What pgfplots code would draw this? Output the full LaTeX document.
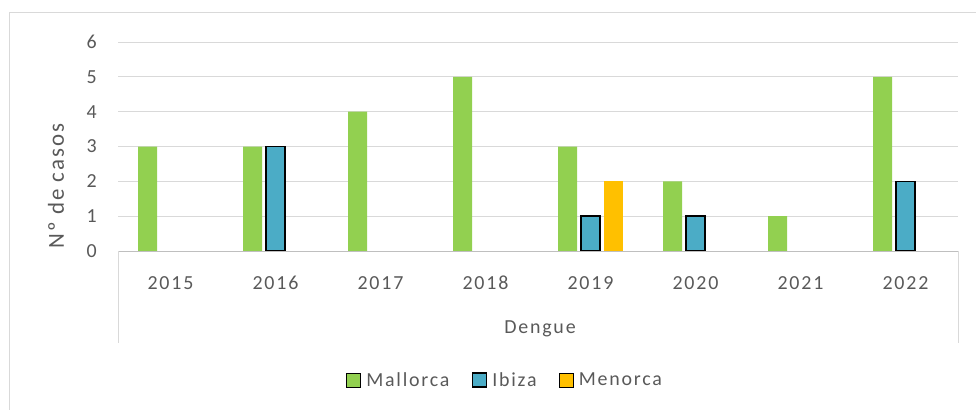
\documentclass[border=0pt]{standalone}
\usepackage{pgfplots}
\pgfplotsset{compat=1.18}
\usepackage{fontspec}
\setmainfont{Carlito}[LetterSpace=9]
\definecolor{txt}{HTML}{595959}
\definecolor{gridc}{HTML}{D9D9D9}
\definecolor{axc}{HTML}{BFBFBF}
\definecolor{mall}{HTML}{92D050}
\definecolor{ibiza}{HTML}{4BACC6}
\definecolor{meno}{HTML}{FFC000}
\begin{document}
\begin{tikzpicture}[x=1bp,y=1bp]
\begin{pgfinterruptboundingbox}
\begin{axis}[
  name=a, at={(0,0)}, anchor=south west,
  scale only axis, width=840bp, height=209bp,
  xmin=-0.5, xmax=7.5, ymin=0, ymax=6,
  ybar=4bp, bar width=19bp,
  legend image code/.code={\path[draw=none,fill=none] (0bp,0bp) -- (20bp,0bp);\draw[#1] (0bp,-7bp) rectangle (14bp,7bp);},
  axis line style={draw=none},
  major tick length=0pt,
  ytick={0,1,2,3,4,5,6},
  xtick={0,1,2,3,4,5,6,7},
  xticklabels={2015,2016,2017,2018,2019,2020,2021,2022},
  ymajorgrids, grid style={gridc, line width=1bp},
  yticklabel style={anchor=east, inner sep=0pt, xshift=-21bp, font=\fontsize{20}{22}\selectfont, text=txt},
  xticklabel style={anchor=center, yshift=-32bp, font=\fontsize{20}{22}\selectfont, text=txt},
  /pgf/number format/assume math mode=true,
  legend style={at={(0.4595,-0.617)}, anchor=center, draw=none, fill=none,
    legend columns=3, font=\fontsize{20}{22}\selectfont, text=txt,
    /tikz/every even column/.append style={column sep=22bp},
    nodes={inner xsep=0bp}},
]
\addplot[fill=mall, draw=none] coordinates {(0,3) (1,3) (2,4) (3,5) (4,3) (5,2) (6,1) (7,5)};
\addplot[fill=ibiza, draw=black, line width=1.5bp] coordinates {(1,3) (4,1) (5,1) (7,2)};
\addplot[fill=meno, draw=none] coordinates {(4,2)};
\legend{Mallorca, Ibiza, Menorca}
\end{axis}
\end{pgfinterruptboundingbox}
\path[use as bounding box] ([shift={(-118,-158)}]a.south west) rectangle ([shift={(858,251)}]a.south west);
\begin{scope}[shift={([shift={(-118,-158)}]a.south west)}]
\draw[gridc, line width=1bp] (10,-2) -- (10,397) -- (978,397);
\draw[axc, line width=1bp] (118,158) -- (958,158);
\draw[gridc, line width=1bp] (118,158) -- (118,66);
\draw[gridc, line width=1bp] (958,158) -- (958,66);
\node[text=txt, font=\fontsize{20}{22}\selectfont] at (540,80) {Dengue};
\node[text=txt, font=\fontsize{23}{25}\selectfont, rotate=90] at (56,223) {Nº de casos};
\end{scope}
\end{tikzpicture}
\end{document}
